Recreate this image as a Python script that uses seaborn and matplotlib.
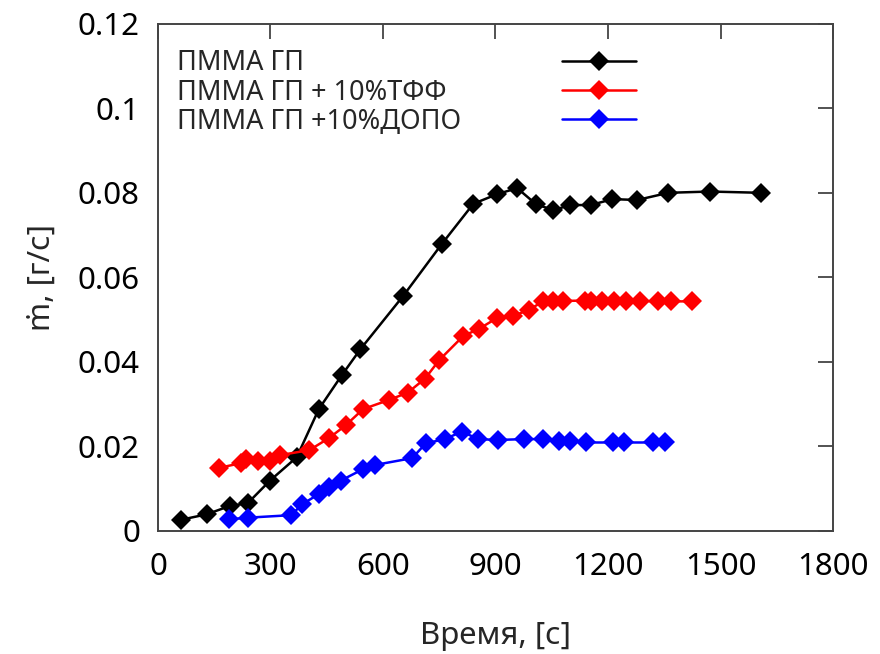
import matplotlib
matplotlib.use("Agg")
import matplotlib.pyplot as plt
import seaborn as sns
import pandas as pd
from matplotlib.lines import Line2D

# ---- data ----
labels = ["ПММА ГП", "ПММА ГП + 10%ТФФ", "ПММА ГП +10%ДОПО"]
colors = ["#000000", "#ff0000", "#0000ff"]

x_pmma = [61, 130, 192, 239, 299, 370, 429, 490, 540, 654, 757, 841, 905, 958,
          1008, 1054, 1100, 1154, 1212, 1278, 1361, 1472, 1607]
y_pmma = [0.0026, 0.0039, 0.0059, 0.0065, 0.0119, 0.0174, 0.0288, 0.0368, 0.0430,
          0.0556, 0.0679, 0.0774, 0.0797, 0.0811, 0.0773, 0.0759, 0.0771, 0.0771,
          0.0785, 0.0783, 0.0800, 0.0803, 0.0800]

x_tff = [163, 221, 236, 266, 300, 325, 404, 457, 501, 547, 617, 666, 712, 750,
         814, 856, 903, 946, 989, 1027, 1054, 1081, 1139, 1156, 1183, 1217, 1247,
         1285, 1334, 1367, 1425]
y_tff = [0.0149, 0.0160, 0.0169, 0.0166, 0.0166, 0.0179, 0.0191, 0.0220, 0.0250,
         0.0288, 0.0310, 0.0327, 0.0360, 0.0404, 0.0461, 0.0478, 0.0503, 0.0508,
         0.0523, 0.0543, 0.0544, 0.0544, 0.0545, 0.0544, 0.0545, 0.0544, 0.0545,
         0.0544, 0.0543, 0.0543, 0.0543]

x_dopo = [189, 239, 355, 385, 429, 456, 488, 547, 580, 678, 714, 765, 811, 853,
          906, 977, 1026, 1070, 1100, 1141, 1214, 1244, 1321, 1352]
y_dopo = [0.0027, 0.0031, 0.0037, 0.0063, 0.0087, 0.0104, 0.0119, 0.0146, 0.0156,
          0.0172, 0.0207, 0.0217, 0.0235, 0.0217, 0.0215, 0.0217, 0.0217, 0.0213,
          0.0213, 0.0209, 0.0209, 0.0209, 0.0209, 0.0210]

x_ticks = [0, 300, 600, 900, 1200, 1500, 1800]
y_ticks = [0, 0.02, 0.04, 0.06, 0.08, 0.1, 0.12]
y_ticklabels = ["0", "0.02", "0.04", "0.06", "0.08", "0.1", "0.12"]

df = pd.concat([
    pd.DataFrame({"x": x_pmma, "y": y_pmma, "s": labels[0]}),
    pd.DataFrame({"x": x_tff, "y": y_tff, "s": labels[1]}),
    pd.DataFrame({"x": x_dopo, "y": y_dopo, "s": labels[2]}),
])

sns.set_style("white")
plt.rcParams["font.family"] = ["Noto Sans", "DejaVu Sans"]

fig = plt.figure(figsize=(8.8, 6.54), dpi=100)
ax = fig.add_axes([0.1795, 0.1884, 0.7671, 0.7752])

MS = 10.5
LW = 1.8
sns.lineplot(data=df, x="x", y="y", hue="s", palette=dict(zip(labels, colors)),
             marker="D", markersize=MS, markeredgewidth=0, linewidth=LW,
             sort=False, estimator=None, legend=False, ax=ax)

ax.set_xlim(0, 1800)
ax.set_ylim(0, 0.12)
ax.set_xticks(x_ticks)
ax.set_xticklabels([str(t) for t in x_ticks])
ax.set_yticks(y_ticks)
ax.set_yticklabels(y_ticklabels)

for sp in ax.spines.values():
    sp.set_visible(True)
    sp.set_color("#444444")
    sp.set_linewidth(1.4)

ax.tick_params(axis="both", which="major", direction="in", length=11, width=1.3,
               color="#444444", top=True, right=True, labelsize=22.5, labelcolor="black")
ax.tick_params(axis="x", pad=15)
ax.tick_params(axis="y", pad=13)

ax.set_xlabel("Время, [с]", fontsize=22.5, labelpad=28)
ax.set_ylabel("ṁ, [г/с]", fontsize=22.5, labelpad=15)

# legend: labels on the left (text only), samples on the right
handles = [Line2D([], [], color=c, marker="D", markersize=MS, markeredgewidth=0,
                  linewidth=LW) for c in colors]
blank = [Line2D([], [], linestyle="none") for _ in colors]
leg1 = ax.legend(blank, labels, loc="upper left", bbox_to_anchor=(-0.008, 0.998),
                 handlelength=0, handletextpad=0, frameon=False, fontsize=19.5,
                 labelspacing=0.05, borderaxespad=0.5)
ax.add_artist(leg1)
leg2 = ax.legend(handles, ["", "", ""], loc="upper left", bbox_to_anchor=(0.563, 0.998),
                 handlelength=2.7, handletextpad=0, frameon=False, fontsize=19.5,
                 labelspacing=0.05, borderaxespad=0.5)

fig.savefig("out.png", dpi=100)
